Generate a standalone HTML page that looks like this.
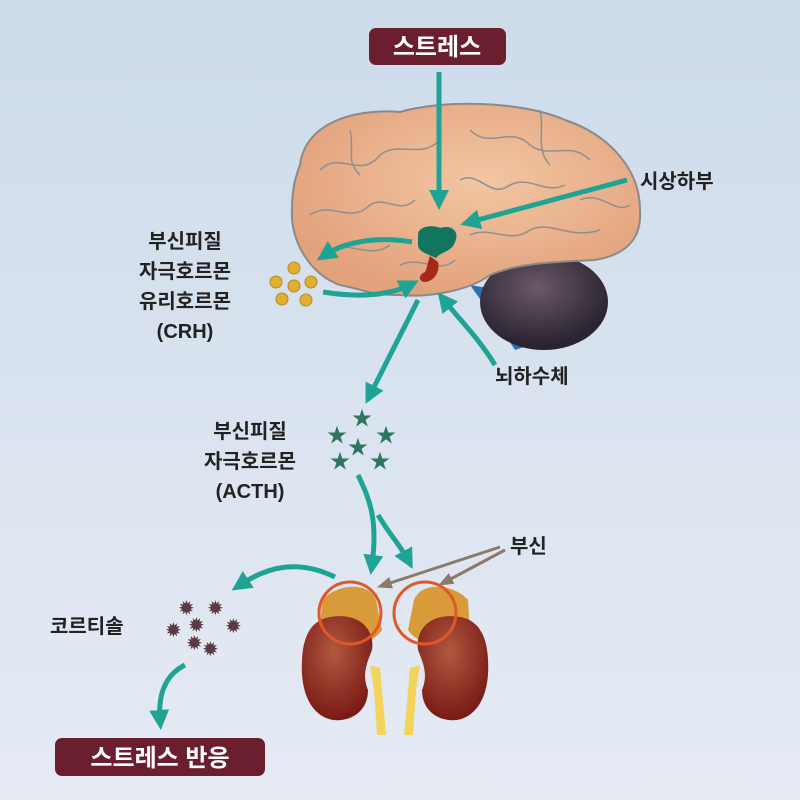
<!DOCTYPE html>
<html><head><meta charset="utf-8"><style>
html,body{margin:0;padding:0;}
body{width:800px;height:800px;overflow:hidden;}
text{font-family:"Liberation Sans","Noto Sans CJK KR",sans-serif;}
</style></head><body>
<svg width="800" height="800" viewBox="0 0 800 800" xmlns="http://www.w3.org/2000/svg">
<defs>
<linearGradient id="bg" x1="0" y1="0" x2="0" y2="1"><stop offset="0" stop-color="#cddbea"/><stop offset="1" stop-color="#e6ebf4"/></linearGradient>
<radialGradient id="br" cx="0.55" cy="0.4" r="0.6"><stop offset="0" stop-color="#f3c6a3"/><stop offset="1" stop-color="#e2a27c"/></radialGradient>
<radialGradient id="cb" cx="0.45" cy="0.35" r="0.6"><stop offset="0" stop-color="#6a5a66"/><stop offset="1" stop-color="#2a2330"/></radialGradient>
<radialGradient id="kd" cx="0.45" cy="0.35" r="0.65"><stop offset="0" stop-color="#b0593f"/><stop offset="1" stop-color="#7a1a16"/></radialGradient>
<marker id="ah" viewBox="0 0 10 10" refX="5" refY="5" markerWidth="4" markerHeight="4" orient="auto"><path d="M0,0 L10,5 L0,10 z" fill="#1fa394"/></marker>
<marker id="ag" viewBox="0 0 10 10" refX="5" refY="5" markerWidth="5" markerHeight="5" orient="auto"><path d="M0,1 L10,5 L0,9 z" fill="#8a7a68"/></marker>
</defs>
<rect width="800" height="800" fill="url(#bg)"/>
<path d="M470 285 L500 290 L525 330 L530 345 L515 350 L495 320 Z" fill="#2f6fb6"/>
<ellipse cx="544" cy="302" rx="64" ry="48" fill="url(#cb)"/>
<path d="M300 165 C305 125 350 108 400 112 C440 100 520 100 565 120 C610 135 640 170 640 210 C642 240 625 255 595 260 C560 262 520 262 490 275 C470 290 430 298 400 295 C370 295 365 290 340 285 C310 275 290 240 292 210 C292 190 295 178 300 165 Z" fill="url(#br)" stroke="#8a8a8a" stroke-width="2"/>
<g fill="none" stroke="#8f8f8f" stroke-width="1.5">
<path d="M320 170 C340 150 360 180 380 155 C400 140 420 160 440 140"/>
<path d="M470 130 C490 150 510 125 530 145 C550 160 570 140 590 160"/>
<path d="M310 215 C330 200 350 225 370 205 C385 195 400 215 415 200"/>
<path d="M460 180 C480 170 490 200 510 185 C530 175 545 195 565 185"/>
<path d="M580 200 C600 190 615 215 630 205"/>
<path d="M330 250 C350 240 370 260 390 245"/>
<path d="M470 235 C490 225 510 245 530 230 C550 220 570 240 600 230"/>
<path d="M350 130 C355 150 345 160 360 175"/>
<path d="M540 110 C545 130 535 150 550 165"/>
<path d="M400 265 C420 255 440 275 455 260"/>
</g>
<path d="M418 235 C418 225 435 225 440 228 C452 224 460 232 455 242 C452 252 440 252 436 258 C430 255 418 252 418 245 Z" fill="#127560"/>
<path d="M430 256 L438 262 C440 270 436 280 426 282 C418 282 418 275 425 272 C428 266 428 260 430 256 Z" fill="#a32a1a"/>
<g fill="none" stroke="#1fa394" stroke-width="5" marker-end="url(#ah)">
<line x1="439" y1="72" x2="439" y2="200"/>
<line x1="627" y1="180" x2="470" y2="222"/>
<path d="M412 242 C370 235 340 245 325 255"/>
<path d="M323 292 C360 298 390 295 410 285"/>
<path d="M418 300 L370 395"/>
<path d="M495 365 C480 340 460 320 444 300"/>
<path d="M358 475 C370 500 378 520 372 565"/>
<path d="M378 515 C390 535 400 545 408 560"/>
<path d="M335 577 C300 560 270 565 240 585"/>
<path d="M185 665 C165 675 158 695 160 720"/>
</g>
<g stroke="#8a7a68" stroke-width="3" marker-end="url(#ag)">
<line x1="500" y1="547" x2="384" y2="585"/>
<line x1="505" y1="550" x2="445" y2="582"/>
</g>
<!-- kidneys -->
<path d="M322 600 C335 585 368 580 376 600 L382 630 C370 648 340 648 320 635 Z" fill="#d99a3a"/>
<path d="M468 600 C455 585 422 580 414 600 L408 630 C420 648 450 648 470 635 Z" fill="#d99a3a"/>
<path d="M330 617 C360 612 375 630 372 650 C366 665 362 675 368 690 C368 712 350 722 333 720 C310 716 300 690 302 660 C303 635 312 620 330 617 Z" fill="url(#kd)"/>
<path d="M460 617 C430 612 415 630 418 650 C424 665 428 675 422 690 C422 712 440 722 457 720 C480 716 490 690 488 660 C487 635 478 620 460 617 Z" fill="url(#kd)"/>
<path d="M370 665 L380 668 L386 735 L377 735 L374 690 Z" fill="#f2d35c"/>
<path d="M420 665 L410 668 L404 735 L413 735 L416 690 Z" fill="#f2d35c"/>
<circle cx="350" cy="613" r="31" fill="none" stroke="#e0582a" stroke-width="3"/>
<circle cx="425" cy="613" r="31" fill="none" stroke="#e0582a" stroke-width="3"/>
<g fill="#e0b032" stroke="#b88a20" stroke-width="1">
<circle cx="294" cy="268" r="6"/><circle cx="276" cy="282" r="6"/><circle cx="294" cy="286" r="6"/><circle cx="311" cy="282" r="6"/><circle cx="282" cy="299" r="6"/><circle cx="306" cy="300" r="6"/>
</g>
<g fill="#2f7560" font-size="20">
<text x="327" y="442">★</text><text x="352" y="425">★</text><text x="348" y="454">★</text><text x="376" y="442">★</text><text x="330" y="468">★</text><text x="370" y="468">★</text>
</g>
<g fill="#5a3a44" font-size="20">
<text x="178" y="615">✹</text><text x="207" y="615">✹</text><text x="188" y="632">✹</text><text x="165" y="637">✹</text><text x="225" y="633">✹</text><text x="186" y="650">✹</text><text x="202" y="656">✹</text>
</g>
<rect x="369" y="28" width="137" height="37" rx="7" fill="#6b1f2e"/>
<text x="437" y="55" font-size="24" font-weight="bold" fill="#fff" text-anchor="middle">스트레스</text>
<rect x="55" y="738" width="210" height="38" rx="7" fill="#6b1f2e"/>
<text x="160" y="766" font-size="24" font-weight="bold" fill="#fff" text-anchor="middle">스트레스 반응</text>
<g font-size="20" fill="#222" font-weight="bold">
<text x="640" y="188">시상하부</text>
<text x="185" y="248" text-anchor="middle">부신피질</text>
<text x="185" y="278" text-anchor="middle">자극호르몬</text>
<text x="185" y="308" text-anchor="middle">유리호르몬</text>
<text x="185" y="338" text-anchor="middle">(CRH)</text>
<text x="495" y="383">뇌하수체</text>
<text x="250" y="438" text-anchor="middle">부신피질</text>
<text x="250" y="468" text-anchor="middle">자극호르몬</text>
<text x="250" y="498" text-anchor="middle">(ACTH)</text>
<text x="510" y="553">부신</text>
<text x="50" y="633">코르티솔</text>
</g>
</svg>
</body></html>
